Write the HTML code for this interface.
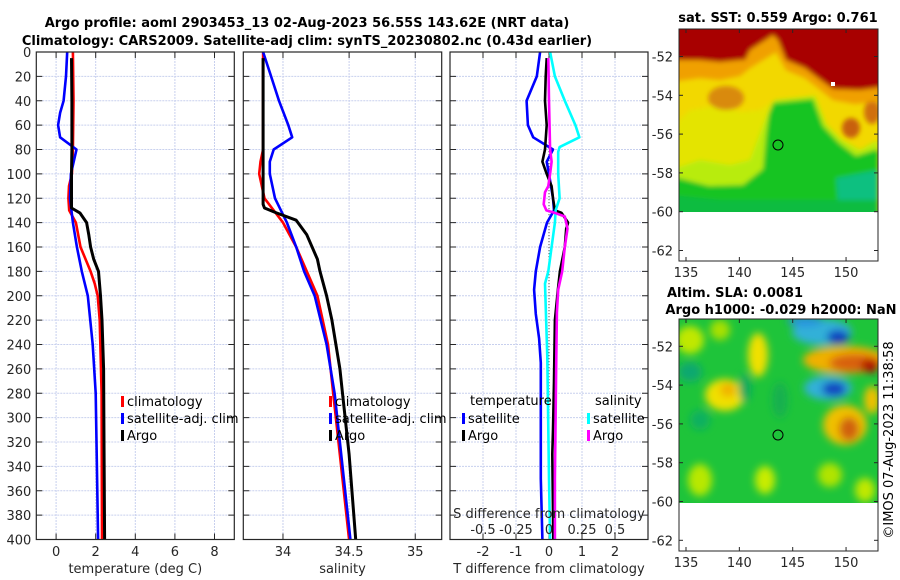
<!DOCTYPE html>
<html><head><meta charset="utf-8"><style>
html,body{margin:0;padding:0;background:#fff;}
svg{display:block;font-family:"DejaVu Sans","Liberation Sans",sans-serif;}
.tk{font-size:13px;fill:#262626;}
.tt{font-size:13px;font-weight:bold;fill:#000;}
.lg{font-size:13px;fill:#000;}
</style></head><body>
<svg id="chart" width="900" height="580" viewBox="0 0 900 580">
<defs>
<filter id="bl" x="-50%" y="-50%" width="200%" height="200%"><feGaussianBlur stdDeviation="4"/></filter>
<filter id="bl2" x="-50%" y="-50%" width="200%" height="200%"><feGaussianBlur stdDeviation="2"/></filter>
<filter id="bl3" x="-10%" y="-10%" width="120%" height="120%"><feGaussianBlur stdDeviation="2.5"/></filter>
<clipPath id="c1"><rect x="679" y="29" width="199" height="183"/></clipPath>
<clipPath id="c2"><rect x="679" y="319" width="199" height="184"/></clipPath>
</defs>
<text class="tt" x="307" y="27" text-anchor="middle">Argo profile: aoml 2903453_13 02-Aug-2023 56.55S 143.62E (NRT data)</text>
<text class="tt" x="307" y="45" text-anchor="middle">Climatology: CARS2009. Satellite-adj clim: synTS_20230802.nc (0.43d earlier)</text>
<g id="panels"></g>
<g id="sst-map">
<text class="tt" x="778" y="22" text-anchor="middle">sat. SST: 0.559 Argo: 0.761</text>
<g clip-path="url(#c1)">
<rect x="679" y="29" width="199" height="183" fill="#f2d800"/>
<g filter="url(#bl3)">
<polygon points="679,120 690,110 720,105 740,112 760,110 775,100 815,96 826,124 842,140 860,150 878,140 878,230 670,230 670,150" fill="#e4e400"/>
<polygon points="670,170 700,160 730,165 750,160 765,120 775,100 815,96 826,124 842,140 860,150 878,140 878,230 670,230" fill="#b8ec10"/>
<polygon points="773,103 813,99 823,126 839,143 856,156 878,149 878,230 670,230 670,176 709,186 743,185 763,169 766,136 769,113" fill="#16c424"/>
<polygon points="836,178 878,170 878,230 840,230" fill="#10c080"/>
<polygon points="670,195 720,200 790,200 878,200 878,230 670,230" fill="#08bc40"/>
<ellipse cx="726" cy="98" rx="18" ry="12" fill="#d98a10"/>
<ellipse cx="851" cy="128" rx="9" ry="10" fill="#c8600a"/>
<ellipse cx="872" cy="112" rx="8" ry="12" fill="#d07010"/>
<polygon points="670,20 890,20 890,100 855,104 833,100 818,88 805,78 786,70 776,52 750,68 740,76 720,80 700,78 670,82" fill="#f0a000"/>
<polygon points="670,20 890,20 890,86 860,90 833,89 818,78 805,68 786,60 778,40 773,35 750,50 745,60 740,60 720,62 700,60 670,60" fill="#a80000"/>
</g>
<rect x="831" y="82" width="4" height="4" fill="#fff"/>
</g>
<rect x="679" y="29" width="199" height="232" fill="none" stroke="#262626" stroke-width="1"/>
<circle cx="778" cy="145" r="5" fill="none" stroke="#000" stroke-width="1"/>
</g>
<g id="sla-map">
<text class="tt" x="735" y="297" text-anchor="middle">Altim. SLA: 0.0081</text>
<text class="tt" x="781" y="314" text-anchor="middle">Argo h1000: -0.029 h2000: NaN</text>
<g clip-path="url(#c2)">
<rect x="679" y="319" width="199" height="184" fill="#1ec43a"/>
<g filter="url(#bl)">
<ellipse cx="690" cy="340" rx="14" ry="14" fill="#c0e800"/>
<ellipse cx="720" cy="330" rx="10" ry="10" fill="#a8e000"/>
<ellipse cx="690" cy="372" rx="12" ry="10" fill="#10a870"/>
<ellipse cx="758" cy="355" rx="10" ry="22" fill="#f0e000"/>
<ellipse cx="725" cy="395" rx="20" ry="16" fill="#f0e000"/>
<ellipse cx="728" cy="390" rx="8" ry="7" fill="#f0b000"/>
<ellipse cx="745" cy="388" rx="6" ry="14" fill="#10a860"/>
<ellipse cx="700" cy="420" rx="10" ry="10" fill="#10b060"/>
<ellipse cx="780" cy="400" rx="8" ry="18" fill="#18b050"/>
<ellipse cx="700" cy="480" rx="12" ry="16" fill="#b8e800"/>
<ellipse cx="765" cy="480" rx="10" ry="14" fill="#c8ec00"/>
<ellipse cx="830" cy="475" rx="12" ry="12" fill="#b0e400"/>
<ellipse cx="865" cy="490" rx="10" ry="12" fill="#c0e800"/>
<ellipse cx="845" cy="360" rx="42" ry="14" fill="#f0b000"/>
<ellipse cx="855" cy="363" rx="26" ry="9" fill="#d86010"/>
<ellipse cx="870" cy="366" rx="9" ry="7" fill="#b01000"/>
<ellipse cx="822" cy="332" rx="30" ry="13" fill="#30b0d8"/>
<ellipse cx="805" cy="321" rx="18" ry="5" fill="#2890e0"/>
<ellipse cx="838" cy="337" rx="11" ry="7" fill="#1040c0"/>
<ellipse cx="828" cy="388" rx="24" ry="12" fill="#30b0d8"/>
<ellipse cx="834" cy="389" rx="12" ry="7" fill="#1040c0"/>
<ellipse cx="845" cy="425" rx="22" ry="20" fill="#f0c000"/>
<ellipse cx="849" cy="429" rx="10" ry="12" fill="#d06010"/>
<ellipse cx="872" cy="400" rx="8" ry="14" fill="#f0c000"/>
</g>
</g>
<rect x="679" y="319" width="199" height="232" fill="none" stroke="#262626" stroke-width="1"/>
<circle cx="778" cy="435" r="5" fill="none" stroke="#000" stroke-width="1"/>
</g>
<text class="lg" transform="translate(893,440) rotate(-90)" text-anchor="middle">©IMOS 07-Aug-2023 11:38:58</text>
</svg>
<script>
// ---- data ----
const depthTicks = [0,20,40,60,80,100,120,140,160,180,200,220,240,260,280,300,320,340,360,380,400];
const tempTicks = [0,2,4,6,8];
const salTicks = [34,34.5,35];
const diffTTicks = [-2,-1,0,1,2];
const diffSTicks = [-0.5,-0.25,0,0.25,0.5];
const diffSLabels = ['-0.5','-0.25','0','0.25','0.5'];
const lonTicks = [135,140,145,150];
const latTicks = [-52,-54,-56,-58,-60,-62];

const tArgoDepth = [5,40,80,100,128,132,140,150,160,170,180,200,220,260,320,400];
const tArgo      = [0.78,0.80,0.80,0.78,0.78,1.2,1.54,1.65,1.74,1.9,2.14,2.24,2.32,2.4,2.42,2.45];
const tClimDepth = [0,40,80,100,110,120,130,140,160,180,190,200,220,280,400];
const tClim      = [0.85,0.88,0.85,0.8,0.65,0.62,0.66,1.0,1.23,1.74,1.95,2.1,2.2,2.3,2.32];
const tSatDepth  = [0,20,40,50,60,70,80,100,120,140,160,180,200,240,280,400];
const tSat       = [0.56,0.5,0.38,0.2,0.1,0.2,1.03,0.75,0.7,0.85,1.05,1.3,1.6,1.85,2.0,2.12];

const sArgoDepth = [5,125,128,132,138,150,170,180,200,220,260,280,330,400];
const sArgo      = [33.85,33.85,33.86,33.95,34.10,34.18,34.26,34.28,34.33,34.37,34.43,34.45,34.50,34.55];
const sClimDepth = [0,80,90,100,120,130,140,160,180,200,240,280,400];
const sClim      = [33.85,33.85,33.83,33.82,33.86,33.93,34.0,34.10,34.18,34.26,34.34,34.38,34.50];
const sSatDepth  = [0,20,40,60,70,80,90,100,120,140,160,180,200,240,280,400];
const sSat       = [33.85,33.91,33.97,34.04,34.07,33.93,33.90,33.90,33.94,34.03,34.10,34.16,34.24,34.33,34.39,34.51];

const dTSatDepth = [0,20,40,60,70,80,90,100,120,130,140,160,180,195,215,235,255,350,400];
const dTSat      = [-0.27,-0.37,-0.68,-0.64,-0.48,0.12,-0.07,0,0.12,0.15,-0.06,-0.27,-0.4,-0.45,-0.4,-0.3,-0.25,-0.25,-0.2];
const dTArgoDepth = [5,20,40,60,80,90,100,110,120,130,132,140,145,160,180,195,220,270,310,330,400];
const dTArgo      = [-0.07,-0.1,-0.12,-0.07,-0.12,-0.2,-0.07,0.08,0.12,0.18,0.38,0.58,0.52,0.48,0.33,0.27,0.18,0.15,0.12,0.1,0.13];
const dSSatDepth = [0,20,40,60,70,78,82,100,120,130,140,160,180,190,250,350,400];
const dSSat      = [0.008,0.045,0.12,0.2,0.23,0.08,0.07,0.07,0.08,0.05,0.045,0.02,-0.005,-0.03,-0.013,0,0.008];
const dSArgoDepth = [5,40,80,90,100,110,115,125,130,132,135,140,145,160,180,195,214,250,350,400];
const dSArgo      = [-0.005,0,0.008,0.02,0.008,-0.005,-0.03,-0.04,-0.02,0.045,0.12,0.13,0.14,0.12,0.1,0.07,0.06,0.055,0.045,0.045];

// ---- axes ----
const NS='http://www.w3.org/2000/svg';
const Y0=52, Y1=539.5;
const yD = d => Y0 + (d/400)*(Y1-Y0);
const P1={x0:36.3,x1:234.3,min:-1,max:9};
const P2={x0:243.3,x1:441.7,min:33.7,max:35.2};
const P3={x0:450,x1:648,min:-3,max:3};
const P3S={x0:450,x1:648,min:-0.75,max:0.75};
const sx=(p,v)=>p.x0+(v-p.min)/(p.max-p.min)*(p.x1-p.x0);
const root=document.getElementById('panels');
function el(tag,attrs,parent){const e=document.createElementNS(NS,tag);for(const k in attrs)e.setAttribute(k,attrs[k]);(parent||root).appendChild(e);return e;}
function txt(s,attrs,parent){const e=el('text',attrs,parent);e.textContent=s;return e;}

function panel(p,name,ticks,labels,xtitle,showY){
  const g=el('g',{});
  
  
  depthTicks.forEach(d=>{
    const l=el('line',{x1:p.x0,x2:p.x1,y1:yD(d),y2:yD(d),stroke:'#c8d0ee','stroke-width':1,'stroke-dasharray':'2,1'},g);
    
    
    el('line',{x1:p.x0,x2:p.x0+6,y1:yD(d),y2:yD(d),stroke:'#262626'},g);
    el('line',{x1:p.x1-6,x2:p.x1,y1:yD(d),y2:yD(d),stroke:'#262626'},g);
    if(showY){const t=txt(String(d),{x:p.x0-5,y:yD(d)+5,'text-anchor':'end',class:'tk'},g);
      
      }
  });
  ticks.forEach((v,i)=>{
    const x=sx(p,v);
    const l=el('line',{x1:x,x2:x,y1:Y0,y2:Y1,stroke:'#c8d0ee','stroke-width':1,'stroke-dasharray':'2,1'},g);
    
    
    el('line',{x1:x,x2:x,y1:Y1-6,y2:Y1,stroke:'#262626'},g);
    el('line',{x1:x,x2:x,y1:Y0,y2:Y0+6,stroke:'#262626'},g);
    const t=txt(labels[i],{x:x,y:556,'text-anchor':'middle',class:'tk'},g);
    
    
  });
  const t=txt(xtitle,{x:(p.x0+p.x1)/2,y:573,'text-anchor':'middle',class:'tk'},g);
  
  
  return g;
}
function frame(p,g){el('rect',{x:p.x0,y:Y0,width:p.x1-p.x0,height:Y1-Y0,fill:'none',stroke:'#262626','stroke-width':1.2},g);}
function series(p,vals,depths,color,name,g,w){
  const pts=vals.map((v,i)=>sx(p,v).toFixed(1)+','+yD(depths[i]).toFixed(1)).join(' ');
  const pl=el('polyline',{points:pts,fill:'none',stroke:color,'stroke-width':w||2.6,'stroke-linejoin':'round'},g);
  
  
}
function legend(x,y,items,g){
  items.forEach((it,i)=>{
    const yy=y+i*17;
    el('rect',{x:x,y:yy-9,width:3,height:11,fill:it[1]},g);
    const t=txt(it[0],{x:x+6,y:yy+1,class:'lg'},g);
    
    
  });
}

const g1=panel(P1,'temperature-panel',tempTicks,tempTicks.map(String),'temperature (deg C)',true);
series(P1,tClim,tClimDepth,'#ff0000','temp-climatology-line',g1);
series(P1,tSat,tSatDepth,'#0000ff','temp-satellite-line',g1);
series(P1,tArgo,tArgoDepth,'#000000','temp-argo-line',g1,3);
frame(P1,g1);
legend(121,405,[['climatology','#ff0000'],['satellite-adj. clim','#0000ff'],['Argo','#000000']],g1);

const g2=panel(P2,'salinity-panel',salTicks,['34','34.5','35'],'salinity',false);
series(P2,sClim,sClimDepth,'#ff0000','sal-climatology-line',g2);
series(P2,sSat,sSatDepth,'#0000ff','sal-satellite-line',g2);
series(P2,sArgo,sArgoDepth,'#000000','sal-argo-line',g2,3);
frame(P2,g2);
legend(329,405,[['climatology','#ff0000'],['satellite-adj. clim','#0000ff'],['Argo','#000000']],g2);

const g3=panel(P3,'difference-panel',diffTTicks,diffTTicks.map(String),'T difference from climatology',false);
el('line',{x1:sx(P3,0),x2:sx(P3,0),y1:Y0,y2:Y1,stroke:'#555','stroke-width':1,'stroke-dasharray':'1,2'},g3);
series(P3,dTSat,dTSatDepth,'#0000ff','dT-satellite-line',g3);
series(P3,dTArgo,dTArgoDepth,'#000000','dT-argo-line',g3);
series(P3S,dSSat,dSSatDepth,'#00ffff','dS-satellite-line',g3);
series(P3S,dSArgo,dSArgoDepth,'#ff00ff','dS-argo-line',g3);
frame(P3,g3);
const lt=txt('temperature',{x:470,y:405,class:'lg'},g3);


legend(462,422,[['satellite','#0000ff'],['Argo','#000000']],g3);
const ls=txt('salinity',{x:595,y:405,class:'lg'},g3);


legend(587,422,[['satellite','#00ffff'],['Argo','#ff00ff']],g3);
const st=txt('S difference from climatology',{x:549,y:518,'text-anchor':'middle',class:'tk'},g3);


diffSTicks.forEach((v,i)=>{
  const t=txt(diffSLabels[i],{x:sx(P3S,v),y:534,'text-anchor':'middle',class:'tk'},g3);
  
  
});

// map axes
const svg=document.getElementById('chart');
function mapAxes(top,bottom,latTopPx,prefix){
  const lonX=v=>686+(v-135)*10.67;
  lonTicks.forEach(v=>{
    el('line',{x1:lonX(v),x2:lonX(v),y1:bottom,y2:bottom-4,stroke:'#262626'},svg);
    el('line',{x1:lonX(v),x2:lonX(v),y1:top,y2:top+4,stroke:'#262626'},svg);
    const t=txt(String(v),{x:lonX(v),y:bottom+16,'text-anchor':'middle',class:'tk'},svg);
    
    
  });
  latTicks.forEach(v=>{
    const y=latTopPx+(-52-v)*19.4;
    el('line',{x1:679,x2:683,y1:y,y2:y,stroke:'#262626'},svg);
    el('line',{x1:874,x2:878,y1:y,y2:y,stroke:'#262626'},svg);
    const t=txt(String(v),{x:673,y:y+5,'text-anchor':'end',class:'tk'},svg);
    
    
  });
}
mapAxes(29,261,56.5,'sst');
mapAxes(319,551,346.3,'sla');
</script>
</body></html>
